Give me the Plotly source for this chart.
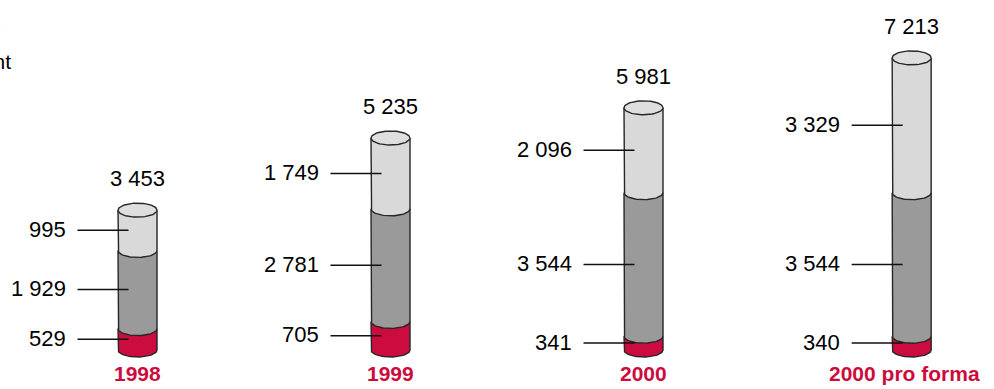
import numpy as np
import plotly.graph_objects as go

# ---------------- data ----------------
categories = ["1998", "1999", "2000", "2000 pro forma"]
bottom_vals = [529, 705, 341, 340]        # red segment
middle_vals = [1929, 2781, 3544, 3544]    # mid-grey segment
top_vals = [995, 1749, 2096, 3329]        # light-grey segment
totals = [3453, 5235, 5981, 7213]
total_labels = ["3 453", "5 235", "5 981", "7 213"]
bottom_labels = ["529", "705", "341", "340"]
middle_labels = ["1 929", "2 781", "3 544", "3 544"]
top_labels = ["995", "1 749", "2 096", "3 329"]

# ---------------- layout / style ----------------
W, H = 994, 389
x_pos = [0, 1, 2, 3.06]                 # category positions on the x axis
cat_shift = [0, 0, 0, -7]               # small horizontal nudge of category labels (px)
X_RANGE = [-0.5435, 3.3854]
Y_RANGE = [-963.0, 8642.0]
px_per_x = W / (X_RANGE[1] - X_RANGE[0])
px_per_y = H / (Y_RANGE[1] - Y_RANGE[0])
HW = 19.5 / px_per_x      # cylinder half width in data units
RY = 7.0 / px_per_y       # ellipse semi-minor axis in data units

RED = "#cc0c3e"
MID = "#9a9a9a"
LIGHT = "#d9d9d9"
TOPC = "#dedede"
EDGE = "#262626"
seg_colors = [RED, MID, LIGHT]

fig = go.Figure()
t = np.linspace(0, np.pi, 40)


def add_poly(xs, ys, fill, line_w, line_c, closed):
    fig.add_trace(go.Scatter(
        x=xs, y=ys, mode="lines",
        fill="toself" if closed else None,
        fillcolor=fill if closed else None,
        line=dict(color=line_c, width=line_w),
        hoverinfo="skip", showlegend=False))


for i, c in enumerate(x_pos):
    vals = [bottom_vals[i], middle_vals[i], top_vals[i]]
    base = 0.0
    for j, v in enumerate(vals):
        y0, y1 = base, base + v
        arc_x = c - HW * np.cos(t)
        arc_y = y0 - RY * np.sin(t)
        xs = [c - HW] + list(arc_x) + [c + HW]
        ys = [y1] + list(arc_y) + [y1]
        add_poly(xs + [xs[0]], ys + [ys[0]], seg_colors[j], 0, seg_colors[j], True)
        add_poly(xs, ys, None, 1.4, EDGE, False)
        base = y1
    tt = np.linspace(0, 2 * np.pi, 80)
    ex = c + HW * np.cos(tt)
    ey = base + RY * np.sin(tt)
    add_poly(list(ex), list(ey), TOPC, 1.4, EDGE, True)

NUM_FONT = dict(family="Liberation Sans, Arial, Helvetica, sans-serif", size=22, color="#000000")
annotations = []
shapes = []
for i, c in enumerate(x_pos):
    annotations.append(dict(x=c, y=totals[i], xref="x", yref="y", text=total_labels[i],
                            showarrow=False, xanchor="center", yanchor="bottom",
                            yshift=17, font=NUM_FONT))
    annotations.append(dict(x=c, y=0, xref="x", yref="y", text="<b>%s</b>" % categories[i],
                            showarrow=False, xanchor="center", yanchor="top", yshift=-10,
                            xshift=cat_shift[i],
                            font=dict(family="Liberation Sans, Arial, sans-serif", size=21, color=RED)))
    segs = [(0, bottom_vals[i], bottom_labels[i]),
            (bottom_vals[i], bottom_vals[i] + middle_vals[i], middle_labels[i]),
            (bottom_vals[i] + middle_vals[i], totals[i], top_labels[i])]
    for y0, y1, lab in segs:
        ym = (y0 + y1) / 2
        annotations.append(dict(x=c, y=ym, xref="x", yref="y", text=lab, showarrow=False,
                                xanchor="right", yanchor="middle", xshift=-70, yshift=1,
                                font=NUM_FONT))
        shapes.append(dict(type="line", xref="x", yref="y", xsizemode="pixel", xanchor=c,
                           x0=-60, x1=-9, y0=ym, y1=ym,
                           line=dict(color="#111111", width=1.5), layer="above"))

# heading, cut off at the left edge as in the original
annotations.append(dict(x=3 / W, y=1 - 29 / H, xref="paper", yref="paper", text="Répartition",
                        showarrow=False, xanchor="right", yanchor="middle",
                        font=dict(family="Liberation Sans, Arial, sans-serif", size=15, color="#8a8a8a")))
annotations.append(dict(x=13 / W, y=1 - 61 / H, xref="paper", yref="paper", text="Investissement",
                        showarrow=False, xanchor="right", yanchor="middle",
                        font=dict(family="Liberation Sans, Arial, sans-serif", size=21, color="#000000")))

fig.update_layout(
    width=W, height=H, margin=dict(l=0, r=0, t=0, b=0),
    paper_bgcolor="white", plot_bgcolor="white",
    xaxis=dict(range=X_RANGE, visible=False, fixedrange=True),
    yaxis=dict(range=Y_RANGE, visible=False, fixedrange=True),
    annotations=annotations, shapes=shapes, showlegend=False,
)

fig.write_html("out.html")
